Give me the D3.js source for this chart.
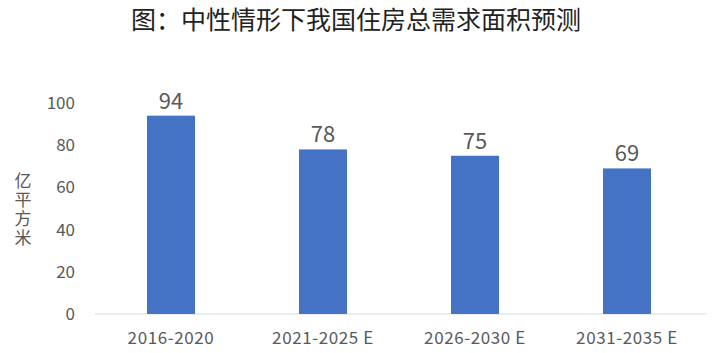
<!DOCTYPE html>
<html>
<head>
<meta charset="utf-8">
<script src="https://cdn.jsdelivr.net/npm/d3@7"></script>
<style>
  body { margin: 0; background: #fff; }
  text { font-family: "Noto Sans CJK SC", "Noto Sans", sans-serif; }
</style>
</head>
<body>
<div id="chart"></div>
<script>
const periods = ["2016-2020", "2021-2025 E", "2026-2030 E", "2031-2035 E"];
const demand = [94, 78, 75, 69];
const yTicks = [0, 20, 40, 60, 80, 100];
const yTitle = "亿平方米";

const canvasWidth = 712, canvasHeight = 353;
const margin = { top: 103, right: 5, bottom: 39, left: 95 };
const width = canvasWidth - margin.left - margin.right;
const height = canvasHeight - margin.top - margin.bottom;

const svg = d3.select("#chart").append("svg")
  .attr("width", canvasWidth)
  .attr("height", canvasHeight);

svg.append("text")
  .attr("x", 356).attr("y", 29)
  .attr("text-anchor", "middle")
  .attr("font-size", 25)
  .attr("fill", "#222")
  .text("图：中性情形下我国住房总需求面积预测");

const g = svg.append("g")
  .attr("transform", "translate(" + margin.left + "," + margin.top + ")");

const x = d3.scaleBand().domain(periods).range([0, 608]).paddingInner(0.684).paddingOuter(0.342);
const y = d3.scaleLinear().domain([0, 100]).range([height, 0]);

// y axis labels (no line)
g.append("g")
  .call(d3.axisLeft(y).tickValues(yTicks).tickSize(0).tickPadding(20))
  .call(s => s.select(".domain").remove())
  .selectAll("text")
    .attr("font-size", 17)
    .attr("fill", "#595959")
    .attr("font-family", "\"Open Sans\", sans-serif");

// baseline
g.append("g")
  .attr("transform", "translate(0," + height + ")")
  .call(d3.axisBottom(x).tickSize(0).tickPadding(18))
  .call(s => s.select(".domain").attr("stroke", "#d9d9d9").attr("d", "M0,0H" + width))
  .selectAll("text")
    .attr("font-size", 17)
    .attr("letter-spacing", 0.6)
    .attr("fill", "#595959")
    .attr("font-family", "\"Open Sans\", sans-serif");

g.selectAll("rect.bar")
  .data(demand).enter()
  .append("rect")
    .attr("class", "bar")
    .attr("x", (d, i) => x(periods[i]))
    .attr("y", d => y(d))
    .attr("width", x.bandwidth())
    .attr("height", d => y(0) - y(d))
    .attr("fill", "#4472c4");

g.selectAll("text.val")
  .data(demand).enter()
  .append("text")
    .attr("class", "val")
    .attr("x", (d, i) => x(periods[i]) + x.bandwidth() / 2)
    .attr("y", d => y(d) - 7)
    .attr("text-anchor", "middle")
    .attr("font-size", 22)
    .attr("fill", "#595959")
    .attr("font-family", "\"Open Sans\", sans-serif")
    .text(d => d);

svg.append("text")
  .attr("x", 23)
  .attr("y", 172)
  .style("writing-mode", "vertical-rl")
  .attr("letter-spacing", 2)
  .attr("font-size", 17)
  .attr("fill", "#595959")
  .text(yTitle);
</script>
</body>
</html>
